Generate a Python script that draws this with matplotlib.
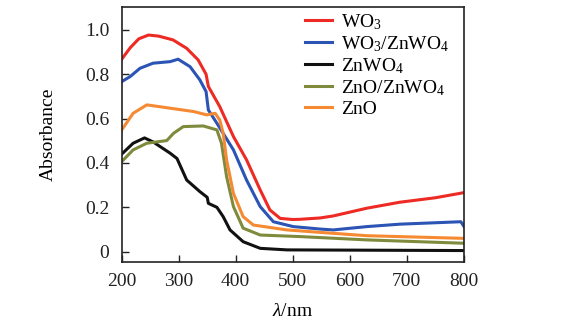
import matplotlib
matplotlib.use("Agg")
import matplotlib.pyplot as plt

plt.rcParams['font.family'] = ['Liberation Serif', 'DejaVu Serif']
plt.rcParams['mathtext.fontset'] = 'custom'
plt.rcParams['mathtext.rm'] = 'Liberation Serif'
plt.rcParams['mathtext.it'] = 'Liberation Serif:italic'

# UV-vis absorbance spectra
wo3_x = [200, 215, 230, 247, 265, 290, 314, 334, 348, 352, 372, 396, 419, 443, 460, 478, 500, 513, 548, 571, 630, 688, 750, 800]
wo3_y = [0.868, 0.92, 0.96, 0.977, 0.972, 0.955, 0.917, 0.865, 0.80, 0.745, 0.654, 0.519, 0.414, 0.278, 0.188, 0.150, 0.145, 0.146, 0.152, 0.161, 0.196, 0.223, 0.243, 0.266]

wz_x = [200, 215, 232, 255, 285, 299, 320, 337, 348, 350, 352, 367, 396, 419, 443, 466, 501, 548, 571, 630, 688, 795, 800]
wz_y = [0.767, 0.79, 0.827, 0.850, 0.857, 0.868, 0.834, 0.775, 0.722, 0.68, 0.639, 0.579, 0.459, 0.323, 0.203, 0.135, 0.113, 0.102, 0.098, 0.113, 0.124, 0.135, 0.115]

znwo4_x = [200, 220, 240, 255, 285, 297, 314, 337, 350, 352, 367, 378, 390, 413, 443, 490, 800]
znwo4_y = [0.440, 0.489, 0.513, 0.495, 0.444, 0.420, 0.323, 0.271, 0.245, 0.218, 0.200, 0.158, 0.098, 0.045, 0.015, 0.008, 0.005]

zz_x = [200, 220, 244, 279, 291, 308, 343, 367, 375, 384, 396, 413, 443, 513, 630, 800]
zz_y = [0.406, 0.459, 0.489, 0.501, 0.534, 0.564, 0.567, 0.549, 0.489, 0.338, 0.203, 0.106, 0.075, 0.068, 0.053, 0.038]

zno_x = [200, 220, 244, 285, 326, 349, 364, 372, 378, 384, 396, 413, 431, 490, 548, 630, 800]
zno_y = [0.549, 0.624, 0.662, 0.647, 0.632, 0.617, 0.624, 0.594, 0.534, 0.414, 0.263, 0.158, 0.120, 0.098, 0.087, 0.072, 0.060]

x_ticks = [200, 300, 400, 500, 600, 700, 800]
y_ticks = [0, 0.2, 0.4, 0.6, 0.8, 1.0]
y_tick_labels = ['0', '0.2', '0.4', '0.6', '0.8', '1.0']

fig = plt.figure(figsize=(5.72, 3.25), dpi=100)
ax = fig.add_axes([0.2128, 0.1929, 0.5979, 0.7846])

lw = 2.2
ax.plot(wo3_x, wo3_y, color='#ee2a24', lw=lw, label='WO$_3$')
ax.plot(wz_x, wz_y, color='#2b54b4', lw=lw, label='WO$_3$/ZnWO$_4$')
ax.plot(znwo4_x, znwo4_y, color='#111111', lw=lw, label='ZnWO$_4$')
ax.plot(zz_x, zz_y, color='#7f8a3c', lw=lw, label='ZnO/ZnWO$_4$')
ax.plot(zno_x, zno_y, color='#f58a33', lw=lw, label='ZnO')

ax.set_xlim(200, 800)
ax.set_ylim(-0.048, 1.102)
ax.set_xticks(x_ticks)
ax.set_yticks(y_ticks)
ax.set_yticklabels(y_tick_labels)
ax.tick_params(direction='in', length=5, width=1, labelsize=14, colors='#222222')
ax.tick_params(axis='y', pad=9)
ax.tick_params(axis='x', pad=8)
for s in ax.spines.values():
    s.set_linewidth(1.2)
    s.set_color('#222222')

ax.set_xlabel('$\\it{\\lambda}$/nm', fontsize=14, labelpad=9)
ax.set_ylabel('Absorbance', fontsize=14, labelpad=20)

ax.legend(loc='upper left', bbox_to_anchor=(305 / 572, 1 - 12 / 325),
          bbox_transform=fig.transFigure, frameon=False, fontsize=14,
          handlelength=1.4, handletextpad=0.45, labelspacing=0.12,
          borderpad=0, borderaxespad=0)

fig.savefig('out.png', dpi=100)
